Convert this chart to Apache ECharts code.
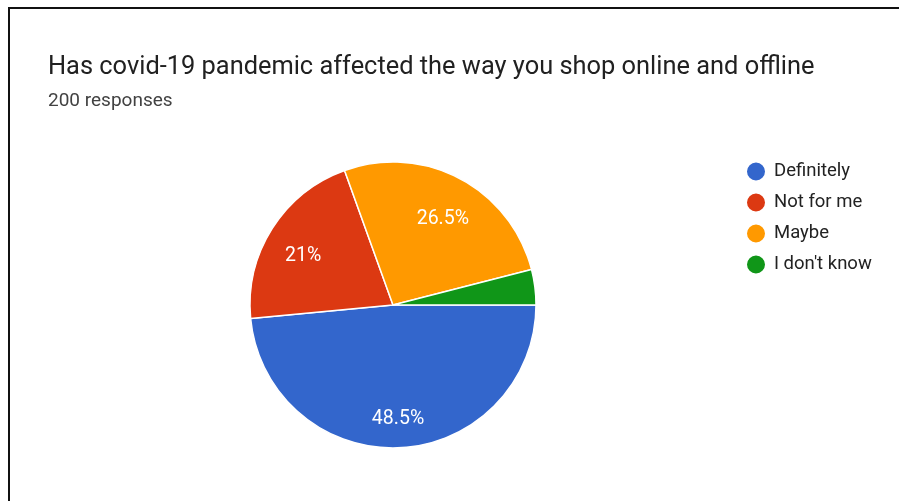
<!DOCTYPE html>
<html>
<head>
<meta charset="utf-8">
<script src="https://cdn.jsdelivr.net/npm/echarts@6/dist/echarts.min.js"></script>
<style>
html,body{margin:0;padding:0;background:#fff;}
#chart{width:899px;height:501px;}
</style>
</head>
<body>
<div id="chart"></div>
<script>
const titleText = "Has covid-19 pandemic affected the way you shop online and offline";
const subtitleText = "200 responses";
const categories = ["Definitely", "Not for me", "Maybe", "I don't know"];
const percentages = [48.5, 21, 26.5, 4];
const sliceColors = ["#3366cc", "#dc3912", "#ff9900", "#109618"];

const chart = echarts.init(document.getElementById('chart'), null, {renderer: 'canvas'});
const data = categories.map((name, i) => ({
  name: name,
  value: percentages[i],
  itemStyle: {color: sliceColors[i]}
}));
const fontFamily = 'Roboto, Arial, sans-serif';

chart.setOption({
  animation: false,
  backgroundColor: '#ffffff',
  title: {
    text: titleText,
    subtext: subtitleText,
    left: 43,
    top: 50,
    itemGap: 12,
    textStyle: {fontFamily: fontFamily, fontSize: 25.4, fontWeight: 'normal', color: '#212121'},
    subtextStyle: {fontFamily: fontFamily, fontSize: 19, color: '#424242'}
  },
  legend: {
    orient: 'vertical',
    left: 740,
    top: 155.5,
    icon: 'circle',
    itemWidth: 20,
    itemHeight: 20,
    itemGap: 9,
    selectedMode: false,
    textStyle: {fontFamily: fontFamily, fontSize: 18.5, lineHeight: 20, color: '#222222', padding: [0, 0, 0, 3]},
    data: categories
  },
  graphic: [{
    type: 'polyline',
    shape: {points: [[9, 501], [9, 8], [899, 8]]},
    style: {stroke: '#111111', lineWidth: 2, fill: null},
    silent: true
  }],
  series: [{
    type: 'pie',
    center: [393, 305],
    radius: [0, 143],
    startAngle: 0,
    clockwise: true,
    avoidLabelOverlap: false,
    label: {show: false},
    labelLine: {show: false},
    itemStyle: {borderColor: '#ffffff', borderWidth: 1.5},
    emphasis: {disabled: true},
    data: data
  }, {
    type: 'pie',
    center: [393, 305],
    radius: [64, 143],
    startAngle: 0,
    clockwise: true,
    silent: true,
    avoidLabelOverlap: false,
    itemStyle: {color: 'rgba(0,0,0,0)', borderWidth: 0},
    label: {
      show: true,
      position: 'inside',
      offset: [0, 8],
      fontFamily: fontFamily,
      fontSize: 19.5,
      color: '#ffffff',
      formatter: function (p) { return p.value >= 5 ? p.value + '%' : ''; }
    },
    labelLine: {show: false},
    emphasis: {disabled: true},
    data: categories.map((name, i) => ({name: name, value: percentages[i]}))
  }]
});
</script>
</body>
</html>
